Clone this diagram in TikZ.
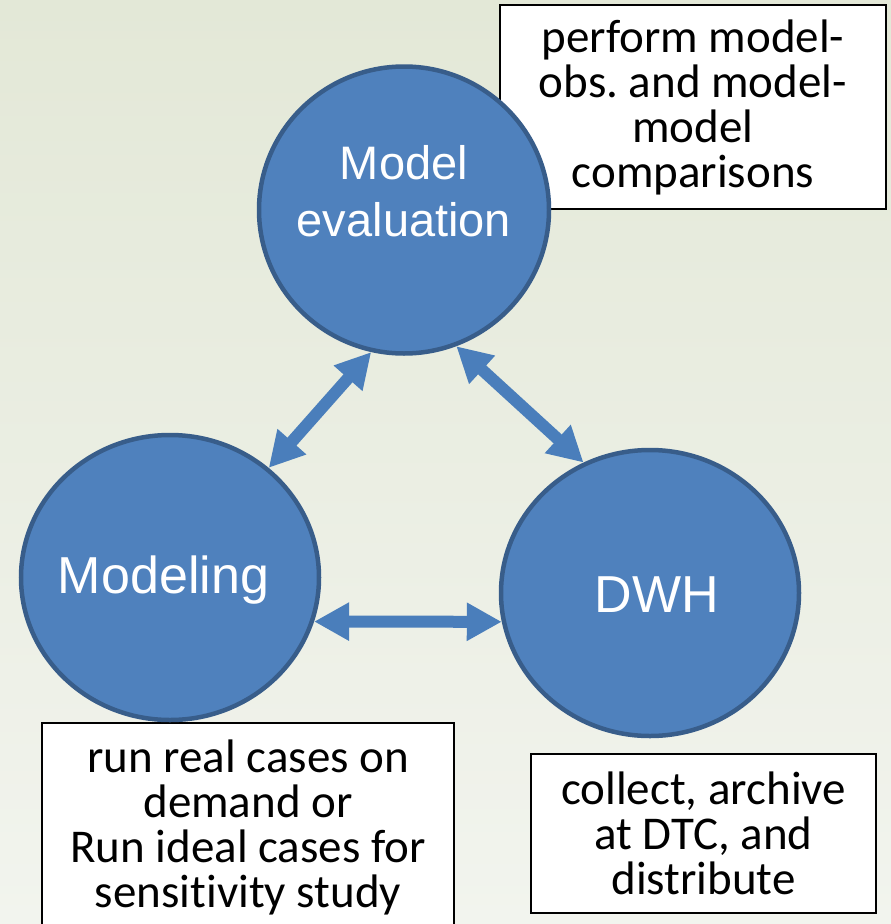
\documentclass[tikz,border=0pt]{standalone}
\usepackage{fontspec}
\setmainfont{Carlito}[Ligatures=NoCommon]
\newfontfamily\arialf{Liberation Sans}
\usetikzlibrary{arrows.meta,shapes.geometric}
\definecolor{bfill}{HTML}{4F81BD}
\definecolor{bline}{HTML}{385D8A}
\definecolor{arrc}{HTML}{4A7EBB}
\definecolor{bgtop}{HTML}{E3E8D7}
\definecolor{bgbot}{HTML}{F2F4EE}
\frenchspacing
\begin{document}
\begin{tikzpicture}[x=1pt,y=-1pt,
  bub/.style={ellipse, fill=bfill, draw=bline, line width=4.5pt, inner sep=0pt},
  bubtxt/.style={text=white, align=center, inner sep=0pt},
  note/.style={draw=black, line width=2pt, fill=white, align=center, inner sep=0pt,
    font=\fontsize{47}{45}\selectfont},
  link/.style={draw=arrc, line width=12pt,
    {Triangle[length=35pt,width=36pt]}-{Triangle[length=35pt,width=36pt]}}
]
\shade[top color=bgtop, bottom color=bgbot] (0,0) rectangle (891,924);
\useasboundingbox (0,0) rectangle (891,924);
\clip (0,0) rectangle (891,924);

% text boxes
\node[note, minimum width=386pt, minimum height=204pt] (obsbox) at (693,107)
  {perform model-\\obs. and model-\\model\\comparisons};
\node[note, minimum width=412pt, minimum height=208pt] (runbox) at (248,827)
  {run real cases on\\demand or\\Run ideal cases for\\sensitivity study};
\node[note, minimum width=345pt, minimum height=159pt] (dwhbox) at (703.5,833.5)
  {collect, archive\\at DTC, and\\distribute};

% bubbles
\node[bub, minimum width=290pt, minimum height=287pt] (me) at (404,210) {};
\node[bub, minimum width=298pt, minimum height=285pt] (mod) at (170,577.5) {};
\node[bub, minimum width=298pt, minimum height=286pt] (dwh) at (650,593) {};

\node[bubtxt, anchor=north, font=\arialf\fontsize{47}{57}\selectfont] (metxt) at (404,145)
  {Model\\evaluation};
\node[bubtxt, anchor=base, font=\arialf\fontsize{52}{60}\selectfont] (modtxt) at (163.5,593) {Modeling};
\node[bubtxt, anchor=base, font=\arialf\fontsize{52}{60}\selectfont] (dwhtxt) at (657,612) {DWH};

% connectors
\draw[link] (me.257) -- (mod.48);
\draw[link] (me.291) -- (dwh.117);
\draw[link] (mod.-17.2) -- (dwh.191.1);
\end{tikzpicture}
\end{document}
